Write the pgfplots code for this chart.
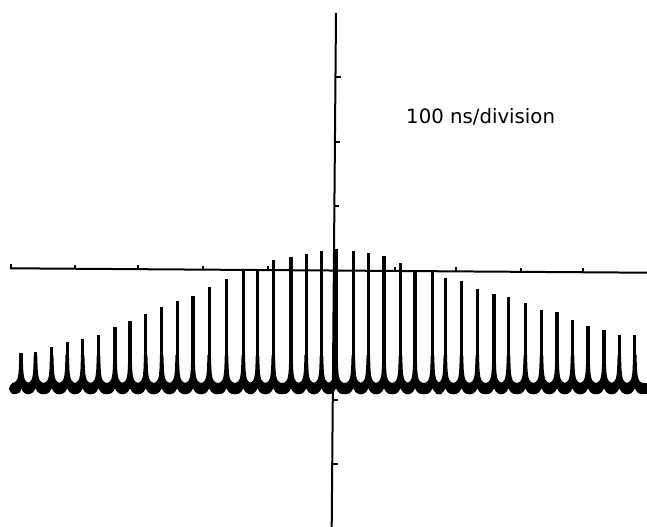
\documentclass[border=0pt]{standalone}
\usepackage{pgfplots}
\usepackage{pgfplotstable}
\usepackage{fontspec}
\setmainfont{DejaVu Sans}
\pgfplotsset{compat=1.18}

% cusp-shaped base of one pulse, drawn as a plot mark at each pulse position
\pgfdeclareplotmark{cusp}{%
  \pgfpathmoveto{\pgfpoint{-9.2bp}{0bp}}%
  \pgfpathlineto{\pgfpoint{-7.5bp}{0.2bp}}%
  \pgfpathlineto{\pgfpoint{-6bp}{0.9bp}}%
  \pgfpathlineto{\pgfpoint{-5bp}{1.8bp}}%
  \pgfpathlineto{\pgfpoint{-4bp}{3.2bp}}%
  \pgfpathlineto{\pgfpoint{-3.2bp}{5.5bp}}%
  \pgfpathlineto{\pgfpoint{-2.6bp}{9bp}}%
  \pgfpathlineto{\pgfpoint{-2.2bp}{14bp}}%
  \pgfpathlineto{\pgfpoint{-1.9bp}{22bp}}%
  \pgfpathlineto{\pgfpoint{-1.7bp}{28bp}}%
  \pgfpathlineto{\pgfpoint{1.7bp}{28bp}}%
  \pgfpathlineto{\pgfpoint{1.9bp}{22bp}}%
  \pgfpathlineto{\pgfpoint{2.2bp}{14bp}}%
  \pgfpathlineto{\pgfpoint{2.6bp}{9bp}}%
  \pgfpathlineto{\pgfpoint{3.2bp}{5.5bp}}%
  \pgfpathlineto{\pgfpoint{4bp}{3.2bp}}%
  \pgfpathlineto{\pgfpoint{5bp}{1.8bp}}%
  \pgfpathlineto{\pgfpoint{6bp}{0.9bp}}%
  \pgfpathlineto{\pgfpoint{7.5bp}{0.2bp}}%
  \pgfpathlineto{\pgfpoint{9.2bp}{0bp}}%
  \pgfpathlineto{\pgfpoint{9.2bp}{-11bp}}%
  \pgfpathlineto{\pgfpoint{7.5bp}{-11.2bp}}%
  \pgfpathlineto{\pgfpoint{5bp}{-10.8bp}}%
  \pgfpathlineto{\pgfpoint{3bp}{-9.7bp}}%
  \pgfpathlineto{\pgfpoint{1.5bp}{-8bp}}%
  \pgfpathlineto{\pgfpoint{0bp}{-5.3bp}}%
  \pgfpathlineto{\pgfpoint{-1.5bp}{-8bp}}%
  \pgfpathlineto{\pgfpoint{-3bp}{-9.7bp}}%
  \pgfpathlineto{\pgfpoint{-5bp}{-10.8bp}}%
  \pgfpathlineto{\pgfpoint{-7.5bp}{-11.2bp}}%
  \pgfpathlineto{\pgfpoint{-9.2bp}{-11bp}}%
  \pgfpathclose
  \pgfusepathqfill
}

% pulse positions (x) and peak heights (h) above the baseline
\pgfplotstableread{
x h b
21.0 30.2 0
35.5 30.5 0
51.7 36.3 0
67.2 40.8 0
82.7 43.7 0
98.5 47.8 0
115.0 55.7 0
130.0 61.5 0
145.7 69.0 0
161.7 75.7 0
177.2 81.5 0
193.0 87.0 0
209.2 96.3 0
226.5 103.8 0
243.3 112.5 0
257.5 112.5 0
273.3 122.7 0
291.0 126.0 0
306.2 129.0 0
321.5 131.7 0
336.0 134.0 0
353.3 131.5 0
368.3 129.7 0
384.0 127.0 0
400.5 119.7 0
415.0 112.0 0
432.5 112.0 0
445.3 105.0 0
461.5 102.3 0
477.3 94.3 0
494.0 88.7 0
508.5 86.3 0
525.3 79.5 0
541.5 72.8 0
557.0 70.8 0
572.5 62.7 0
588.0 57.2 0
604.0 53.0 0
619.3 47.7 0
634.8 47.5 0
}\pulses

\begin{document}
\begin{tikzpicture}
\begin{axis}[
  width=647bp, height=527bp, scale only axis,
  xmin=0, xmax=647, ymin=-144, ymax=383,
  axis lines=none,
]
\path (rel axis cs:0,0) rectangle (rel axis cs:1,1);
% baseline band ends
\addplot[black, line width=11bp, line cap=round] coordinates {(14.5,-5.5) (16,-5.5)};
\addplot[black, line width=11bp] coordinates {(641,-5.5) (647,-5.5)};
% pulse bases
\addplot[only marks, mark=cusp, black, mark options={fill=black, draw=none}] table[x=x, y=b]{\pulses};
% pulses
\addplot[ycomb, black, line width=3.2bp, mark=none] table[x=x, y=h]{\pulses};
% graticule axes
\addplot[black, line width=2bp, mark=none] coordinates {(10,114.7) (647,110.3)};
\addplot[black, line width=2bp, mark=none] coordinates {(336,370) (331.7,-144)};
% x ticks
\addplot[black, line width=2bp, mark=none, unbounded coords=jump] coordinates {
 (11,114.7) (11,118.7) (11,nan)
 (75,114.25) (75,118.3) (75,nan)
 (137.5,113.8) (137.5,117.8) (137.5,nan)
 (203,113.4) (203,117.4) (203,nan)
 (268,112.9) (268,116.9) (268,nan)
 (395,112.0) (395,116.0) (395,nan)
 (456,111.6) (456,115.6) (456,nan)
 (521,111.2) (521,115.2) (521,nan)
 (583,110.7) (583,114.7)
};
% y ticks
\addplot[black, line width=2bp, mark=none, unbounded coords=jump] coordinates {
 (335.5,306) (340.5,306) (nan,306)
 (334.9,241) (339.9,241) (nan,241)
 (334.4,177) (339.4,177) (nan,177)
 (332.8,-17) (338.3,-17) (nan,-17)
 (332.2,-81) (337.7,-81)
};
\node[anchor=base west, inner sep=0pt, font=\fontsize{19.8}{22}\selectfont] at (axis cs:406,259.7) {100 ns/division};
\end{axis}
\end{tikzpicture}
\end{document}
